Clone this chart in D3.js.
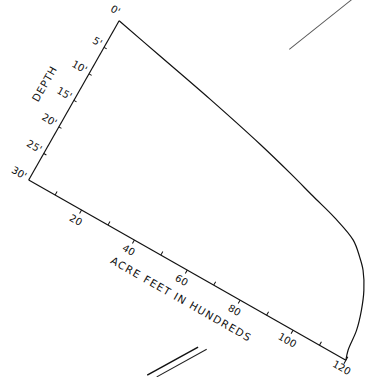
<!DOCTYPE html>
<html><head><meta charset="utf-8">
<script src="https://cdn.jsdelivr.net/npm/d3@7"></script>
<style>html,body{margin:0;padding:0;background:#fff;}svg{display:block;}</style>
</head><body>
<script>
// ---- data ----
const acreFeet = [0, 17.3, 38.6, 60.5, 73.9, 84, 93.6, 102.6, 107.2, 110.3, 113.8, 116.3, 118.2, 119.0, 120];
const depthFt  = [0, 1.7, 3.8, 6.2, 7.9, 9.3, 10.6, 12.3, 14.2, 15.8, 18.6, 21.6, 24.9, 28.4, 30];
const xTicks = [10, 20, 30, 40, 50, 60, 70, 80, 90, 100, 110, 120];
const xTickLabels = [20, 40, 60, 80, 100, 120];
const depthTicks = [0, 5, 10, 15, 20, 25, 30];
const depthTickLabels = ["0'", "5'", "10'", "15'", "20'", "25'", "30'"];
const xTitle = "ACRE FEET IN HUNDREDS";
const yTitle = "DEPTH";
// stray scan strokes from neighbouring drawings, in chart units [acre, depth]
const strayA = [[53.3, -9.7], [63.2, -22]];
const strayB = [[65.6, 48.2], [75.6, 40.1]];
const strayC = [[68.6, 47.7], [78.4, 39.7]];

// ---- layout ----
const W = 365, H = 377;
const ox = 28.7, oy = 180, angle = 29.6;
const xLen = 364.8, yLen = 183.1;
const font = "'DejaVu Sans', sans-serif";

const svg = d3.select("body").append("svg").attr("width", W).attr("height", H);
const g = svg.append("g").attr("transform", `translate(${ox},${oy}) rotate(${angle})`);

const x = d3.scaleLinear().domain([0, 120]).range([0, xLen]);
const y = d3.scaleLinear().domain([0, 30]).range([-yLen, 0]);

// axes lines
g.append("line").attr("x1", x(0)).attr("y1", y(30)).attr("x2", x(120)).attr("y2", y(30))
  .attr("stroke", "#111").attr("stroke-width", 1.2);
g.append("line").attr("x1", x(0)).attr("y1", y(0)).attr("x2", x(0)).attr("y2", y(30))
  .attr("stroke", "#111").attr("stroke-width", 1.2);

// x ticks
g.selectAll(".xt").data(xTicks).join("line")
  .attr("x1", d => x(d)).attr("x2", d => x(d))
  .attr("y1", d => d === 120 ? y(30) - 4 : (d % 20 === 0 ? y(30) : y(30) - 4))
  .attr("y2", d => d % 20 === 0 ? y(30) + 4 : y(30))
  .attr("stroke", "#111").attr("stroke-width", 1);

g.selectAll(".xl").data(xTickLabels).join("text")
  .attr("x", d => x(d)).attr("y", d => y(30) + (d === 120 ? 12 : 15))
  .attr("text-anchor", "middle")
  .attr("font-family", font).attr("font-size", 10).attr("fill", "#111")
  .text(d => d);

g.append("text").attr("x", x(63)).attr("y", y(30) + 32)
  .attr("text-anchor", "middle").attr("font-family", font).attr("font-size", 10.5)
  .attr("letter-spacing", 1.2).attr("fill", "#111").text(xTitle);

// depth ticks
g.selectAll(".yt").data(depthTicks.slice(1, -1)).join("line")
  .attr("x1", 0).attr("x2", 3).attr("y1", d => y(d)).attr("y2", d => y(d))
  .attr("stroke", "#111").attr("stroke-width", 1);

g.selectAll(".yl").data(depthTicks).join("text")
  .attr("x", -4).attr("y", d => y(d) + (d === 0 ? -4 : 2))
  .attr("text-anchor", "end")
  .attr("font-family", font).attr("font-size", 10).attr("fill", "#111")
  .text((d, i) => depthTickLabels[i]);

g.append("text")
  .attr("transform", `translate(${-30},${y(15)}) rotate(-90)`)
  .attr("text-anchor", "middle").attr("font-family", font).attr("font-size", 10.5)
  .attr("letter-spacing", 0.8).attr("fill", "#111").text(yTitle);

// curve
const pts = acreFeet.map((a, i) => [a, depthFt[i]]);
const line = d3.line().x(d => x(d[0])).y(d => y(d[1])).curve(d3.curveCatmullRom.alpha(0.5));
g.append("path").attr("d", line(pts)).attr("fill", "none")
  .attr("stroke", "#111").attr("stroke-width", 1.2);

// stray strokes
const sl = d3.line().x(d => x(d[0])).y(d => y(d[1]));
g.append("path").attr("d", sl(strayA)).attr("stroke", "#555").attr("stroke-width", 0.9).attr("fill", "none");
g.append("path").attr("d", sl(strayB)).attr("stroke", "#111").attr("stroke-width", 1.5).attr("fill", "none");
g.append("path").attr("d", sl(strayC)).attr("stroke", "#222").attr("stroke-width", 1).attr("fill", "none");
</script>
</body></html>
